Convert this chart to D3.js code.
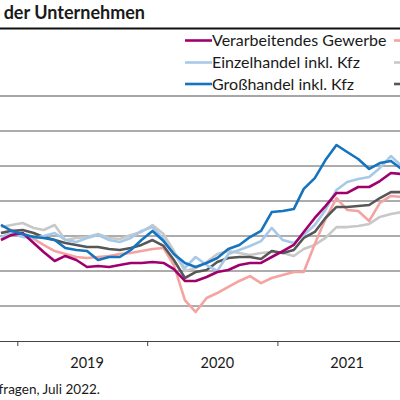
<!DOCTYPE html>
<html><head><meta charset="utf-8">
<script src="https://cdn.jsdelivr.net/npm/d3@7"></script>
<style>
html,body{margin:0;padding:0;background:#fff;overflow:hidden}
svg{display:block}
text{font-family:Lato,"Open Sans",sans-serif;fill:#1a1a1a}
</style></head>
<body>
<svg id="chart" width="400" height="400"></svg>
<script>
// Months: Nov 2018 .. Dec 2021
const startYear = 2018, startMonth = 10;
const yearTicks = [2019, 2020, 2021, 2022];
const yearLabels = ["2019", "2020", "2021"];
const yTicks = [-40, -20, 0, 20, 40, 60, 80, 100];

const verarbeitendes = [17.7,20.6,21.7,16,10.9,5.7,8.6,6.3,2.3,2.9,2.3,3.4,4.6,4.6,5.1,4.6,1.1,-5.7,-5.7,-3.4,-0.6,0.6,3.4,4.6,4.6,8,11.4,14.9,22.3,30.3,37.1,44.6,44.6,48,48,51.4,56,55.4];
const einzelhandel = [19.4,21.7,19.4,18.9,20,21.7,17.7,16.6,18.9,20.6,17.7,16.6,18.9,22.9,25.1,18.3,9.7,1.7,8,3.4,0,9.7,12,14.3,17.1,24.6,17.7,16,20.6,26.3,34.9,46.3,50.9,52.6,53.7,58.9,65.7,60];
const grosshandel = [26.3,22.9,21.1,19.4,18.9,17.7,13.1,12,11.4,6.3,8,8,12,17.7,22.9,17.1,9.7,4.6,2.3,4.6,7.4,12.6,14.9,19.4,22.9,33.7,34.3,35.4,46.9,53.1,63.4,72,68,64,58.3,61.7,62.9,58.3];
const dienstleister = [21.7,23.4,21.1,18.3,14.9,11.4,9.7,8,7.4,8,8.6,9.7,10.3,11.4,12.6,13.1,3.4,-16.6,-23.4,-15.4,-12.6,-9.1,-5.7,-2.9,-6.9,-4,-2.3,-0.6,-0.6,15.4,29.7,41.7,34.9,34.3,28.6,38.9,42.9,42.3];
const bau = [25.1,26.3,27.4,24.6,23.4,26.3,17.7,18.9,19.4,21.1,18.9,18.3,20.6,22.3,26.3,21.1,11.4,0,1.7,5.1,9.7,11.4,10.3,9.1,10.3,10.9,10.3,8.6,12.6,14.9,18.9,25.1,25.1,25.7,26.9,30.9,32.6,33.7];
const insgesamt = [21.7,22.9,23.4,21.7,19.4,17.7,16,14.9,13.7,13.7,12.6,12,13.1,14.9,17.7,14.3,6.3,-4,-0.6,0.6,5.1,7.4,8,8,6.9,11.4,10.3,12,18.9,22.3,30.3,36.6,36.6,37.1,37.7,41.7,45.1,45.1];

// legend labels visible in the picture (second legend column is cut off at the edge)
const legendLabels = ["Verarbeitendes Gewerbe","Einzelhandel inkl. Kfz","Großhandel inkl. Kfz"];
const seriesColors = ["#a0006e","#a7c9e9","#1574bd","#f4a3a1","#c8c8c8","#575757"];
const seriesValues = [verarbeitendes, einzelhandel, grosshandel, dienstleister, bau, insgesamt];
const drawOrder = [4, 3, 5, 1, 0, 2];

const svg = d3.select("#chart");
const x = d3.scaleTime().domain([new Date(2019,0,1), new Date(2022,0,1)]).range([17.3, 407.3]);
const y = d3.scaleLinear().domain([-40, 100]).range([341, 96]);

// title
svg.append("text").attr("x", 145).attr("y", 18.5).attr("text-anchor","end")
  .attr("font-size", 18).attr("font-weight", "bold").text("der Unternehmen");
svg.append("line").attr("x1",0).attr("x2",400).attr("y1",28.5).attr("y2",28.5)
  .attr("stroke","#111").attr("stroke-width",2.2);

// gridlines
svg.append("g").selectAll("line").data(yTicks.slice(1)).join("line")
  .attr("x1",0).attr("x2",400).attr("y1",d=>y(d)).attr("y2",d=>y(d))
  .attr("stroke", d => d===100 ? "#8a8a8a" : "#5a5a5a")
  .attr("stroke-width", d => d===100 ? 1.6 : 1);

// x axis
const xAxis = d3.axisBottom(x).tickValues(yearTicks.map(yy=>new Date(yy,0,1)))
  .tickSize(5).tickFormat("");
const gx = svg.append("g").attr("transform",`translate(0,${y(-40)})`).call(xAxis);
gx.select(".domain").attr("stroke","#444").attr("d","M0,0.5H400");
gx.selectAll(".tick line").attr("stroke","#444");
svg.append("g").selectAll("text").data(yearLabels).join("text")
  .attr("x", d => x(new Date(+d,6,2)) + 5).attr("y", 368).attr("text-anchor","middle")
  .attr("font-size",14.5).text(d=>d);

// lines
const dateOf = i => new Date(startYear, startMonth + i, 16);
const line = d3.line().x((d,i)=>x(dateOf(i))).y(d=>y(d));
const plot = svg.append("g");
drawOrder.forEach(k => {
  plot.append("path").datum(seriesValues[k]).attr("d", line)
    .attr("fill","none").attr("stroke",seriesColors[k]).attr("stroke-width",2.6)
    .attr("stroke-linejoin","round");
});

// legend
const legRows = [40.5, 62.5, 84];
const legend = svg.append("g");
seriesColors.forEach((c,k) => {
  const col = Math.floor(k/3), row = k%3;
  const lx = col===0 ? 185 : 394;
  legend.append("line").attr("x1",lx).attr("x2",lx+27).attr("y1",legRows[row]).attr("y2",legRows[row])
    .attr("stroke",c).attr("stroke-width",2.6);
  if (col===0) legend.append("text").attr("x",lx+27).attr("y",legRows[row]+5.5).attr("font-size",16).text(legendLabels[row]);
});

// source
svg.append("text").attr("x",100).attr("y",394).attr("text-anchor","end").attr("font-size",13.5)
  .text("fragen, Juli 2022.");
</script>
</body></html>
